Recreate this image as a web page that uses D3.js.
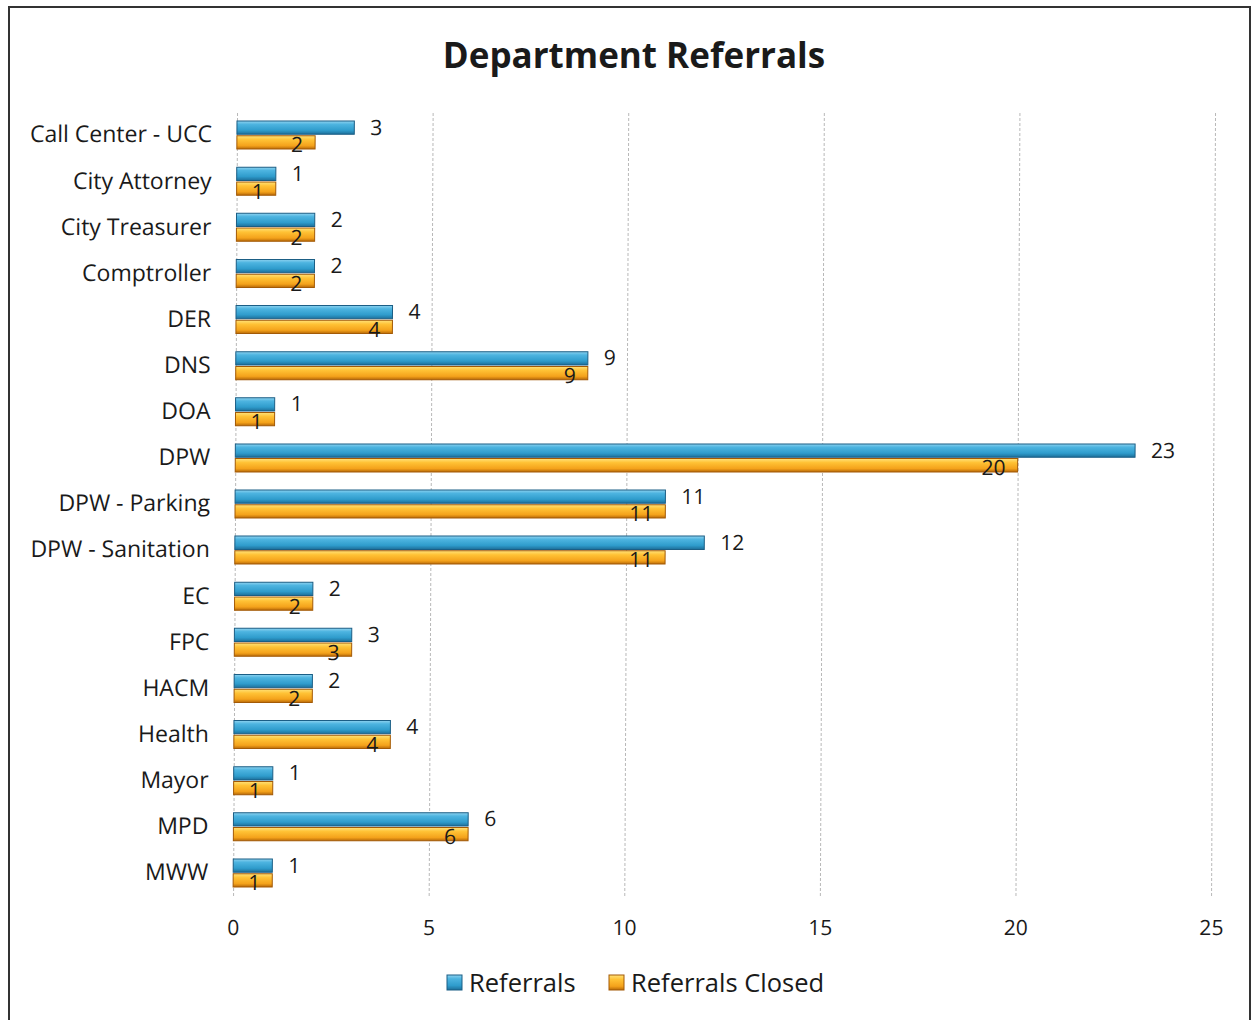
<!DOCTYPE html>
<html>
<head>
<meta charset="utf-8">
<script src="https://cdn.jsdelivr.net/npm/d3@7"></script>
<style>
  html, body { margin: 0; padding: 0; background: #fff; }
  svg { display: block; }
  text { font-family: "Open Sans", sans-serif; fill: #1a1a1a; }
</style>
</head>
<body>
<svg id="chart" width="1252" height="1020"></svg>
<script>
// Department referral counts
const departments = ["Call Center - UCC", "City Attorney", "City Treasurer", "Comptroller", "DER", "DNS", "DOA", "DPW", "DPW - Parking", "DPW - Sanitation", "EC", "FPC", "HACM", "Health", "Mayor", "MPD", "MWW"];
const referrals = [3, 1, 2, 2, 4, 9, 1, 23, 11, 12, 2, 3, 2, 4, 1, 6, 1];
const referralsClosed = [2, 1, 2, 2, 4, 9, 1, 20, 11, 11, 2, 3, 2, 4, 1, 6, 1];
const xTicks = [0, 5, 10, 15, 20, 25];
const seriesNames = ["Referrals", "Referrals Closed"];

const svg = d3.select("#chart");
const FONT = "'Open Sans', sans-serif";

// outer frame
svg.append("rect").attr("x", 9).attr("y", 7).attr("width", 1241).attr("height", 1030)
  .attr("fill", "#fff").attr("stroke", "#333").attr("stroke-width", 2);

const defs = svg.append("defs");
function grad(id, stops) {
  const g = defs.append("linearGradient").attr("id", id)
    .attr("x1", 0).attr("y1", 0).attr("x2", 0).attr("y2", 1);
  stops.forEach(([o, c]) => g.append("stop").attr("offset", o).attr("stop-color", c));
}
grad("gBlue", [[0, "#8fd3f0"], [0.25, "#4db4e0"], [0.7, "#2f9ccc"], [1, "#1d6f9a"]]);
grad("gOrange", [[0, "#ffe27a"], [0.3, "#ffc235"], [0.75, "#f4a21b"], [1, "#b86a08"]]);

// plot area leans slightly to the left toward the bottom
const plot = svg.append("g").attr("transform", "translate(2.6,0) skewX(-0.29)");

const x = d3.scaleLinear().domain([0, 25]).range([235, 1213]);
const y = d3.scaleBand().domain(departments).range([112, 896]);
const sub = d3.scaleBand().domain(seriesNames).range([0, 28]).paddingInner(0.1);
const rowOffset = (y.bandwidth() - 28) / 2;

// title
svg.append("text").attr("x", 634).attr("y", 68).attr("text-anchor", "middle")
  .style("font-size", "35px").style("font-weight", "bold").text("Department Referrals");

// vertical gridlines + tick labels
const xAxis = d3.axisBottom(x).tickValues(xTicks).tickSize(-(896 - 112)).tickPadding(24);
const gx = plot.append("g").attr("transform", "translate(0,896)").call(xAxis);
gx.select(".domain").remove();
gx.selectAll(".tick line").attr("stroke", "#b8b8b8").attr("stroke-dasharray", "3,2").attr("stroke-width", 1);
gx.selectAll(".tick text").style("font-size", "21px").style("font-family", FONT).attr("fill", "#1a1a1a");

// category labels
const yAxis = d3.axisLeft(y).tickSize(0).tickPadding(25);
const gy = plot.append("g").attr("transform", "translate(235,0)").call(yAxis);
gy.select(".domain").remove();
gy.selectAll(".tick text").style("font-size", "23px").style("font-family", FONT).attr("fill", "#1a1a1a");

// bars
const rows = plot.append("g").selectAll("g").data(departments).join("g")
  .attr("transform", d => `translate(0,${y(d) + rowOffset})`);

rows.append("rect")
  .attr("x", x(0)).attr("y", sub("Referrals"))
  .attr("width", (d, i) => x(referrals[i]) - x(0)).attr("height", sub.bandwidth())
  .attr("fill", "url(#gBlue)").attr("stroke", "#1b5e85").attr("stroke-width", 1);

rows.append("rect")
  .attr("x", x(0)).attr("y", sub("Referrals Closed"))
  .attr("width", (d, i) => x(referralsClosed[i]) - x(0)).attr("height", sub.bandwidth())
  .attr("fill", "url(#gOrange)").attr("stroke", "#a35a06").attr("stroke-width", 1);

// value labels
rows.append("text")
  .attr("x", (d, i) => x(referrals[i]) + 16)
  .attr("y", sub("Referrals") + sub.bandwidth() / 2 + 7)
  .style("font-size", "21px").text((d, i) => referrals[i]);

rows.append("text")
  .attr("x", (d, i) => x(referralsClosed[i]) - 12)
  .attr("text-anchor", "end")
  .attr("y", sub("Referrals Closed") + sub.bandwidth() / 2 + 10)
  .style("font-size", "21px").text((d, i) => referralsClosed[i]);

// legend
const legend = svg.append("g").attr("transform", "translate(0,983)");
const legendItems = [
  { name: seriesNames[0], x: 447, fill: "url(#gBlue)", stroke: "#1b5e85" },
  { name: seriesNames[1], x: 609, fill: "url(#gOrange)", stroke: "#a35a06" }
];
legendItems.forEach(it => {
  legend.append("rect").attr("x", it.x).attr("y", -8).attr("width", 15).attr("height", 15)
    .attr("fill", it.fill).attr("stroke", it.stroke);
  legend.append("text").attr("x", it.x + 22).attr("y", 9).style("font-size", "25.5px").text(it.name);
});
</script>
</body>
</html>
